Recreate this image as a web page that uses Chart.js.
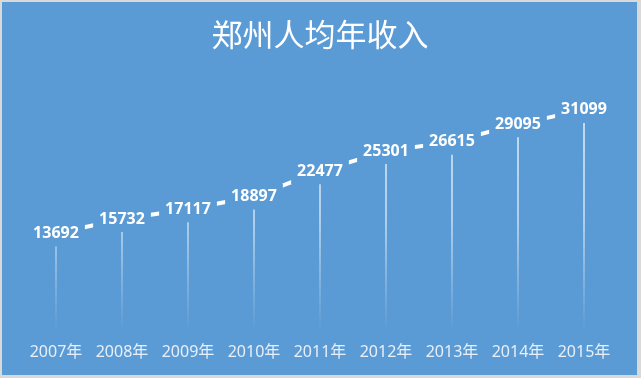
<!DOCTYPE html>
<html>
<head>
<meta charset="utf-8">
<script src="https://cdn.jsdelivr.net/npm/chart.js@4"></script>
<style>
  body { margin: 0; background: #d9d9d9; }
  #wrap { position: absolute; left: 2px; top: 2px; width: 635px; height: 373px; background: #5b9bd5; }
</style>
</head>
<body>
<div id="wrap"><canvas id="incomeChart"></canvas></div>
<script>
const years = ["2007年", "2008年", "2009年", "2010年", "2011年", "2012年", "2013年", "2014年", "2015年"];
const income = [13692, 15732, 17117, 18897, 22477, 25301, 26615, 29095, 31099];

const bgColor = "#5b9bd5";

// drop lines + boxed value labels sitting on the line
const labelPlugin = {
  id: "labelPlugin",
  afterDatasetsDraw(chart) {
    const ctx = chart.ctx;
    const meta = chart.getDatasetMeta(0);
    const area = chart.chartArea;
    ctx.save();
    const grad = ctx.createLinearGradient(0, area.top, 0, area.bottom);
    grad.addColorStop(0, "rgba(255,255,255,0.9)");
    grad.addColorStop(0.55, "rgba(255,255,255,0.7)");
    grad.addColorStop(1, "rgba(255,255,255,0)");
    meta.data.forEach((pt, i) => {
      ctx.font = "bold 16px 'Noto Sans', sans-serif";
      const txt = String(income[i]);
      const w = ctx.measureText(txt).width;
      ctx.fillStyle = bgColor;
      ctx.fillRect(pt.x - w / 2 - 6, pt.y - 13, w + 12, 26);

      ctx.strokeStyle = grad;
      ctx.lineWidth = 1.5;
      ctx.beginPath();
      ctx.moveTo(pt.x, pt.y + 13);
      ctx.lineTo(pt.x, area.bottom);
      ctx.stroke();

      ctx.fillStyle = "#ffffff";
      ctx.textAlign = "center";
      ctx.textBaseline = "middle";
      ctx.fillText(txt, pt.x, pt.y);
    });
    ctx.restore();
  }
};

new Chart(document.getElementById("incomeChart"), {
  type: "line",
  data: {
    labels: years,
    datasets: [{
      data: income,
      borderColor: "#ffffff",
      borderWidth: 4,
      pointRadius: 0,
      tension: 0
    }]
  },
  options: {
    responsive: true,
    maintainAspectRatio: false,
    animation: false,
    layout: { padding: { left: 21, right: 20, bottom: 1 } },
    plugins: {
      legend: { display: false },
      tooltip: { enabled: false },
      title: {
        display: true,
        text: "郑州人均年收入",
        color: "#ffffff",
        font: { family: "'Noto Sans CJK SC', sans-serif", size: 31, weight: "normal" },
        padding: { top: 14, bottom: 29 }
      }
    },
    scales: {
      x: {
        offset: true,
        grid: { display: false, drawTicks: false },
        border: { display: false },
        ticks: {
          color: "#e8eff8",
          padding: 12,
          font: { family: "'Noto Sans', 'Noto Sans CJK SC', sans-serif", size: 16 }
        }
      },
      y: {
        display: false,
        min: 0,
        max: 35000
      }
    }
  },
  plugins: [labelPlugin]
});
</script>
</body>
</html>
